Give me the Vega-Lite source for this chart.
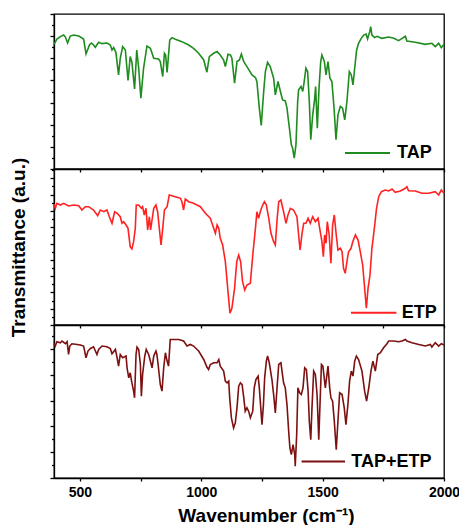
{
"$schema": "https://vega.github.io/schema/vega-lite/v6.json",
"padding": {"left": 8, "top": 12, "right": 5, "bottom": 2},
"background": "white",
"spacing": 0,
"bounds": "flush",
"config": {
  "view": {"stroke": "black", "strokeWidth": 1.3},
  "axis": {"grid": false, "minExtent": 0, "domainColor": "black", "domainWidth": 1.3, "tickColor": "black", "tickWidth": 1.3, "labelFont": "Liberation Sans", "labelFontWeight": "bold", "labelColor": "black", "titleFont": "Liberation Sans", "titleFontWeight": "bold", "titleColor": "black"},
  "legend": {"labelFont": "Liberation Sans", "labelFontWeight": "bold", "labelFontSize": 18, "labelColor": "black"}
},
"resolve": {"scale": {"color": "independent", "y": "independent"}, "legend": {"color": "independent"}},
"datasets": {
"tap": [{"x":393,"y":125},{"x":405,"y":130.3},{"x":419,"y":132.7},{"x":433,"y":134.3},{"x":440,"y":132.3},{"x":449,"y":126.3},{"x":460,"y":133.3},{"x":474,"y":134.3},{"x":495,"y":133.3},{"x":515,"y":130.3},{"x":525,"y":115.3},{"x":539,"y":124.3},{"x":547,"y":126.3},{"x":556,"y":124.3},{"x":563,"y":122},{"x":577,"y":127},{"x":591,"y":125.7},{"x":611,"y":126.3},{"x":625,"y":124.3},{"x":632,"y":119.3},{"x":639,"y":121.7},{"x":648,"y":117},{"x":659,"y":94.3},{"x":666,"y":111},{"x":676,"y":122.7},{"x":687,"y":119.3},{"x":698,"y":88.7},{"x":707,"y":112.7},{"x":714,"y":107},{"x":725,"y":80.3},{"x":734,"y":119.3},{"x":742,"y":101},{"x":751,"y":71},{"x":762,"y":101},{"x":776,"y":123.3},{"x":790,"y":121},{"x":804,"y":111},{"x":824,"y":110.3},{"x":831,"y":107.7},{"x":841,"y":92.7},{"x":848,"y":116},{"x":853,"y":114.3},{"x":859,"y":96.7},{"x":870,"y":129.3},{"x":879,"y":131.7},{"x":893,"y":130},{"x":920,"y":127.7},{"x":948,"y":124.3},{"x":968,"y":121},{"x":989,"y":116},{"x":1010,"y":109.3},{"x":1023,"y":97},{"x":1033,"y":112.7},{"x":1051,"y":116},{"x":1065,"y":117.7},{"x":1078,"y":114.3},{"x":1092,"y":109.3},{"x":1099,"y":102.7},{"x":1110,"y":115},{"x":1120,"y":114.3},{"x":1126,"y":111},{"x":1137,"y":86},{"x":1147,"y":107.7},{"x":1157,"y":109.3},{"x":1165,"y":115.3},{"x":1175,"y":107.7},{"x":1188,"y":102.7},{"x":1209,"y":94.3},{"x":1223,"y":91.7},{"x":1229,"y":87.7},{"x":1239,"y":61},{"x":1247,"y":43.7},{"x":1257,"y":77.7},{"x":1264,"y":97.7},{"x":1273,"y":107},{"x":1284,"y":102.7},{"x":1298,"y":91},{"x":1305,"y":74.3},{"x":1316,"y":87.7},{"x":1326,"y":77.7},{"x":1335,"y":69.3},{"x":1346,"y":68.3},{"x":1353,"y":61},{"x":1363,"y":41},{"x":1371,"y":24.3},{"x":1376,"y":21},{"x":1383,"y":11},{"x":1390,"y":24.3},{"x":1397,"y":67.7},{"x":1401,"y":79.3},{"x":1411,"y":82.7},{"x":1418,"y":77.7},{"x":1424,"y":87.7},{"x":1431,"y":101},{"x":1438,"y":97.7},{"x":1445,"y":67.7},{"x":1451,"y":29.3},{"x":1459,"y":54.3},{"x":1466,"y":67.7},{"x":1471,"y":82.7},{"x":1478,"y":41},{"x":1485,"y":81},{"x":1492,"y":107.7},{"x":1497,"y":114.3},{"x":1507,"y":107.7},{"x":1514,"y":94.3},{"x":1522,"y":107.7},{"x":1530,"y":91},{"x":1538,"y":87.7},{"x":1547,"y":61},{"x":1555,"y":29.3},{"x":1563,"y":54.3},{"x":1573,"y":62.7},{"x":1582,"y":61},{"x":1591,"y":49.3},{"x":1600,"y":67.7},{"x":1610,"y":97.7},{"x":1618,"y":94.3},{"x":1625,"y":84.3},{"x":1632,"y":101},{"x":1640,"y":119.3},{"x":1648,"y":126},{"x":1659,"y":131},{"x":1669,"y":134.3},{"x":1679,"y":135.3},{"x":1685,"y":130.3},{"x":1694,"y":137.7},{"x":1698,"y":142.7},{"x":1703,"y":134.3},{"x":1714,"y":131.7},{"x":1724,"y":133},{"x":1744,"y":131},{"x":1772,"y":132.3},{"x":1793,"y":131},{"x":1813,"y":128.7},{"x":1841,"y":133},{"x":1847,"y":128.3},{"x":1882,"y":127},{"x":1923,"y":125},{"x":1950,"y":126},{"x":1964,"y":122.7},{"x":1978,"y":126},{"x":1989,"y":121.7},{"x":2000,"y":125}],
"etp": [{"x":393,"y":120.7},{"x":398,"y":116.7},{"x":405,"y":121.7},{"x":419,"y":120},{"x":433,"y":121.7},{"x":453,"y":119},{"x":474,"y":120},{"x":495,"y":119.3},{"x":508,"y":115},{"x":522,"y":118.3},{"x":536,"y":118.3},{"x":556,"y":115},{"x":573,"y":109.3},{"x":584,"y":115},{"x":598,"y":113.3},{"x":611,"y":115},{"x":621,"y":108.3},{"x":632,"y":101.7},{"x":643,"y":113.3},{"x":653,"y":111.7},{"x":666,"y":108.3},{"x":673,"y":101.7},{"x":680,"y":103.3},{"x":690,"y":100},{"x":698,"y":96.7},{"x":707,"y":78.3},{"x":714,"y":76},{"x":721,"y":83.3},{"x":728,"y":96.7},{"x":732,"y":120},{"x":742,"y":120},{"x":753,"y":116.7},{"x":758,"y":118.3},{"x":765,"y":110},{"x":772,"y":116.7},{"x":779,"y":95},{"x":786,"y":108.3},{"x":791,"y":95},{"x":797,"y":105},{"x":804,"y":116.7},{"x":813,"y":120},{"x":820,"y":113.3},{"x":827,"y":96.7},{"x":834,"y":80},{"x":841,"y":96.7},{"x":848,"y":115},{"x":859,"y":118.3},{"x":868,"y":130},{"x":879,"y":129.3},{"x":893,"y":128.3},{"x":914,"y":126.7},{"x":920,"y":123.3},{"x":927,"y":115},{"x":934,"y":126},{"x":948,"y":123.3},{"x":968,"y":121.7},{"x":996,"y":118.3},{"x":1017,"y":111.7},{"x":1037,"y":106.7},{"x":1051,"y":96.7},{"x":1058,"y":91.7},{"x":1065,"y":100},{"x":1072,"y":96.7},{"x":1078,"y":86.7},{"x":1088,"y":80},{"x":1099,"y":63.3},{"x":1110,"y":33.3},{"x":1118,"y":11.7},{"x":1126,"y":16.7},{"x":1137,"y":36.7},{"x":1146,"y":63.3},{"x":1154,"y":70},{"x":1162,"y":63.3},{"x":1170,"y":43.3},{"x":1179,"y":35},{"x":1188,"y":40},{"x":1202,"y":41.7},{"x":1212,"y":70},{"x":1223,"y":96.7},{"x":1229,"y":113.3},{"x":1236,"y":106.7},{"x":1243,"y":113.3},{"x":1250,"y":118.3},{"x":1260,"y":123.3},{"x":1268,"y":120},{"x":1278,"y":106.7},{"x":1287,"y":91.7},{"x":1298,"y":83.3},{"x":1305,"y":80},{"x":1312,"y":105},{"x":1319,"y":123.3},{"x":1328,"y":125},{"x":1339,"y":113.3},{"x":1349,"y":101.7},{"x":1357,"y":110},{"x":1367,"y":116.7},{"x":1380,"y":115},{"x":1394,"y":108.3},{"x":1401,"y":90},{"x":1407,"y":75},{"x":1415,"y":91.7},{"x":1422,"y":101.7},{"x":1431,"y":101.7},{"x":1440,"y":106.7},{"x":1449,"y":101.7},{"x":1459,"y":108.3},{"x":1470,"y":103.3},{"x":1481,"y":106.7},{"x":1490,"y":93.3},{"x":1497,"y":83.3},{"x":1503,"y":68.3},{"x":1508,"y":90},{"x":1514,"y":81.7},{"x":1519,"y":103.3},{"x":1527,"y":90},{"x":1534,"y":61.7},{"x":1541,"y":100},{"x":1548,"y":110},{"x":1556,"y":90},{"x":1563,"y":75},{"x":1573,"y":76.7},{"x":1580,"y":73.3},{"x":1586,"y":56.7},{"x":1593,"y":51.7},{"x":1602,"y":66.7},{"x":1607,"y":73.3},{"x":1617,"y":76.7},{"x":1624,"y":83.3},{"x":1635,"y":90},{"x":1646,"y":85},{"x":1655,"y":73.3},{"x":1665,"y":60},{"x":1673,"y":36.7},{"x":1680,"y":16.7},{"x":1687,"y":36.7},{"x":1695,"y":50},{"x":1703,"y":76.7},{"x":1713,"y":96.7},{"x":1722,"y":116.7},{"x":1731,"y":128.3},{"x":1742,"y":133.3},{"x":1758,"y":135},{"x":1772,"y":134},{"x":1786,"y":136},{"x":1799,"y":132.7},{"x":1820,"y":134},{"x":1841,"y":136.7},{"x":1847,"y":138.3},{"x":1854,"y":134.3},{"x":1882,"y":134},{"x":1909,"y":131.7},{"x":1937,"y":131.7},{"x":1964,"y":133.3},{"x":1978,"y":130},{"x":1989,"y":135},{"x":2000,"y":131.7}],
"mix": [{"x":393,"y":134},{"x":398,"y":131.7},{"x":405,"y":136},{"x":419,"y":135},{"x":426,"y":136.7},{"x":440,"y":134},{"x":447,"y":136},{"x":453,"y":123.3},{"x":458,"y":131.7},{"x":467,"y":134},{"x":488,"y":133.3},{"x":502,"y":132.7},{"x":515,"y":131.7},{"x":525,"y":120},{"x":533,"y":126.7},{"x":543,"y":129.3},{"x":556,"y":131},{"x":570,"y":123.3},{"x":577,"y":128.3},{"x":591,"y":131.7},{"x":611,"y":131},{"x":625,"y":129.3},{"x":632,"y":124},{"x":646,"y":128.3},{"x":653,"y":120},{"x":659,"y":111.7},{"x":666,"y":123.3},{"x":676,"y":120},{"x":690,"y":121.7},{"x":694,"y":110},{"x":701,"y":100},{"x":707,"y":105},{"x":714,"y":95},{"x":721,"y":86.7},{"x":725,"y":80},{"x":731,"y":123.3},{"x":735,"y":130.7},{"x":742,"y":128.3},{"x":749,"y":113.3},{"x":753,"y":81.7},{"x":758,"y":103.3},{"x":767,"y":121.7},{"x":773,"y":128.3},{"x":783,"y":123.3},{"x":790,"y":116.7},{"x":797,"y":110},{"x":804,"y":121.7},{"x":813,"y":126.7},{"x":817,"y":123.3},{"x":822,"y":113.3},{"x":831,"y":93.3},{"x":838,"y":86.7},{"x":845,"y":110},{"x":852,"y":125},{"x":859,"y":116.7},{"x":865,"y":111.7},{"x":872,"y":138.3},{"x":886,"y":138.3},{"x":907,"y":138.3},{"x":927,"y":136.7},{"x":941,"y":131.7},{"x":955,"y":133.3},{"x":968,"y":131.7},{"x":989,"y":126.7},{"x":1010,"y":118.3},{"x":1023,"y":110.7},{"x":1030,"y":108.3},{"x":1037,"y":113.3},{"x":1051,"y":115},{"x":1065,"y":115},{"x":1072,"y":118.3},{"x":1078,"y":111.7},{"x":1092,"y":106.7},{"x":1099,"y":96.7},{"x":1106,"y":95},{"x":1113,"y":96.7},{"x":1117,"y":80},{"x":1124,"y":60},{"x":1133,"y":50},{"x":1140,"y":55},{"x":1147,"y":70},{"x":1154,"y":91.7},{"x":1161,"y":95},{"x":1168,"y":93.3},{"x":1175,"y":80},{"x":1181,"y":66.7},{"x":1188,"y":70},{"x":1195,"y":66.7},{"x":1202,"y":60},{"x":1212,"y":66.7},{"x":1218,"y":90},{"x":1225,"y":98.3},{"x":1234,"y":101.7},{"x":1239,"y":90},{"x":1245,"y":70},{"x":1250,"y":53.3},{"x":1256,"y":73.3},{"x":1261,"y":100},{"x":1268,"y":116.7},{"x":1273,"y":121.7},{"x":1280,"y":115},{"x":1291,"y":98.3},{"x":1298,"y":83.3},{"x":1305,"y":65},{"x":1312,"y":90},{"x":1319,"y":113.3},{"x":1328,"y":115},{"x":1339,"y":95},{"x":1346,"y":90},{"x":1353,"y":73.3},{"x":1360,"y":46.7},{"x":1365,"y":30},{"x":1371,"y":23.3},{"x":1378,"y":33.3},{"x":1385,"y":23.3},{"x":1387,"y":11.7},{"x":1393,"y":43.3},{"x":1398,"y":90},{"x":1405,"y":85},{"x":1412,"y":83.3},{"x":1419,"y":90},{"x":1426,"y":110},{"x":1433,"y":108.3},{"x":1440,"y":86.7},{"x":1445,"y":56.7},{"x":1451,"y":38.3},{"x":1456,"y":70},{"x":1463,"y":106.7},{"x":1470,"y":103.3},{"x":1477,"y":83.3},{"x":1484,"y":38.3},{"x":1489,"y":73.3},{"x":1495,"y":113.3},{"x":1501,"y":111.7},{"x":1511,"y":90},{"x":1522,"y":111.7},{"x":1529,"y":90},{"x":1534,"y":80},{"x":1541,"y":76.7},{"x":1548,"y":56.7},{"x":1556,"y":28.3},{"x":1563,"y":56.7},{"x":1570,"y":85},{"x":1580,"y":83.3},{"x":1589,"y":70},{"x":1596,"y":53.3},{"x":1604,"y":73.3},{"x":1611,"y":96.7},{"x":1618,"y":106.7},{"x":1625,"y":101.7},{"x":1632,"y":116.7},{"x":1639,"y":121.7},{"x":1648,"y":118.3},{"x":1662,"y":106.7},{"x":1673,"y":86.7},{"x":1681,"y":76.7},{"x":1690,"y":90},{"x":1699,"y":106.7},{"x":1707,"y":116.7},{"x":1717,"y":106.7},{"x":1727,"y":123.3},{"x":1738,"y":125},{"x":1751,"y":130},{"x":1765,"y":134},{"x":1772,"y":136.7},{"x":1793,"y":136.7},{"x":1813,"y":136},{"x":1827,"y":136.7},{"x":1841,"y":138.3},{"x":1847,"y":136.7},{"x":1868,"y":135},{"x":1896,"y":133.3},{"x":1923,"y":131.7},{"x":1944,"y":133.3},{"x":1950,"y":130.7},{"x":1964,"y":135},{"x":1978,"y":131.7},{"x":1989,"y":134},{"x":2000,"y":132.7}]
},
"vconcat": [
{
  "width": 390, "height": 155,
  "data": {"name": "tap"},
  "mark": {"type": "line", "strokeWidth": 1.6},
  "encoding": {
    "x": {"field": "x", "type": "quantitative", "scale": {"domain": [393, 2000], "nice": false, "zero": false},
          "axis": {"values": [500,750,1000,1250,1500,1750,2000], "labels": false, "title": null, "tickSize": 3}},
    "y": {"field": "y", "type": "quantitative", "scale": {"domain": [0, 155.4], "nice": false, "zero": false},
          "axis": {"values": [0,11.1,22.2,33.3,44.4,55.5,66.6,77.7,88.8,99.9,111,122.1,133.2,144.3,155.4], "labels": false, "title": null,
                   "tickSize": {"condition": {"test": "round(datum.value/11.1) % 2 == 0", "value": 4}, "value": 2.5}}},
    "color": {"datum": "TAP", "type": "nominal", "scale": {"domain": ["TAP"], "range": ["#1e8c1e"]},
              "legend": {"title": null, "orient": "none", "legendX": 290, "legendY": 115.5, "padding": 0, "symbolType": "stroke", "symbolSize": 2025, "symbolStrokeWidth": 2, "labelOffset": 6}}
  }
},
{
  "width": 390, "height": 156,
  "data": {"name": "etp"},
  "mark": {"type": "line", "strokeWidth": 1.6},
  "encoding": {
    "x": {"field": "x", "type": "quantitative", "scale": {"domain": [393, 2000], "nice": false, "zero": false},
          "axis": {"values": [500,750,1000,1250,1500,1750,2000], "labels": false, "title": null, "tickSize": 3}},
    "y": {"field": "y", "type": "quantitative", "scale": {"domain": [0, 156], "nice": false, "zero": false},
          "axis": {"values": [0,8.15,16.3,24.45,32.6,40.75,48.9,57.05,65.2,73.35,81.5,89.65,97.8,105.95,114.1,122.25,130.4,138.55,146.7,154.85], "labels": false,
                   "title": "Transmittance (a.u.)", "titleFontSize": 19, "titlePadding": 21,
                   "tickSize": {"condition": {"test": "round(datum.value/8.15) % 2 == 0", "value": 4}, "value": 2.5}}},
    "color": {"datum": "ETP", "type": "nominal", "scale": {"domain": ["ETP"], "range": ["#ff2222"]},
              "legend": {"title": null, "orient": "none", "legendX": 295.7, "legendY": 119.7, "padding": 0, "symbolType": "stroke", "symbolSize": 2070, "symbolStrokeWidth": 2, "labelOffset": 4}}
  }
},
{
  "width": 390, "height": 153,
  "data": {"name": "mix"},
  "mark": {"type": "line", "strokeWidth": 1.6},
  "encoding": {
    "x": {"field": "x", "type": "quantitative", "scale": {"domain": [393, 2000], "nice": false, "zero": false},
          "axis": {"values": [500,750,1000,1250,1500,1750,2000], "format": "d", "labelExpr": "datum.value % 500 == 0 ? datum.label : ''", "labelFlush": false, "labelOverlap": false, "labelFontSize": 14, "labelPadding": 4,
                   "title": "Wavenumber (cm⁻¹)", "titleFontSize": 19, "titlePadding": 7, "titleX": 212, "tickSize": 3}},
    "y": {"field": "y", "type": "quantitative", "scale": {"domain": [0, 152.7], "nice": false, "zero": false},
          "axis": {"values": [0,12.85,25.7,38.55,51.4,64.25,77.1,89.95,102.8,115.65,128.5,141.35], "labels": false, "title": null,
                   "tickSize": {"condition": {"test": "round(datum.value/12.85) % 2 == 0", "value": 4}, "value": 2.5}}},
    "color": {"datum": "TAP+ETP", "type": "nominal", "scale": {"domain": ["TAP+ETP"], "range": ["#7d1010"]},
              "legend": {"title": null, "orient": "none", "legendX": 246.3, "legendY": 113.5, "padding": 0, "symbolType": "stroke", "symbolSize": 1890, "symbolStrokeWidth": 2, "labelOffset": 5}}
  }
}
]
}
